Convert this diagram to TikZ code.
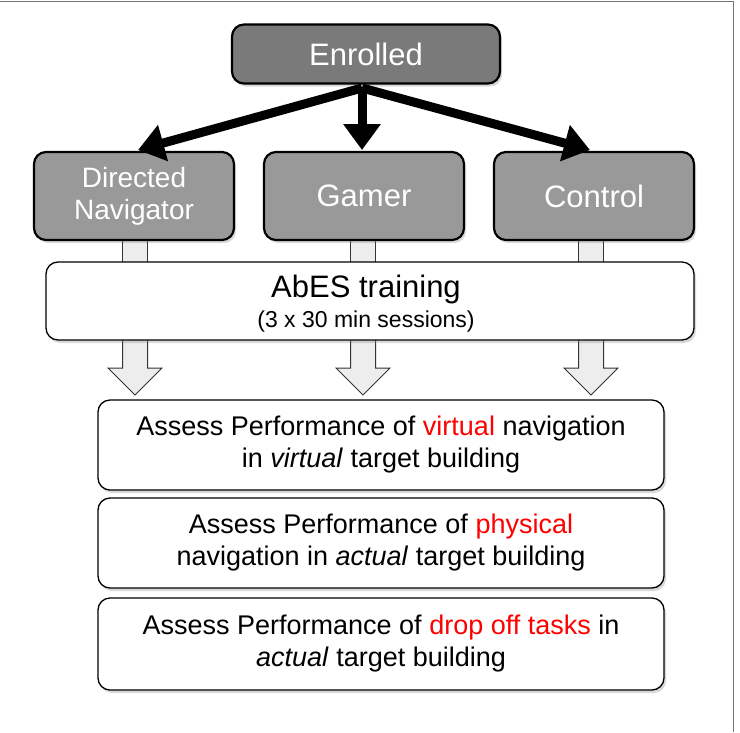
\documentclass[tikz,border=0pt]{standalone}
\usepackage{fontspec}
\setmainfont{Liberation Sans}
\usetikzlibrary{shadows,arrows.meta}
\begin{document}
\begin{tikzpicture}[x=1pt,y=-1pt,
  box/.style={draw=black,line width=2.2pt,rounded corners=12pt,drop shadow={shadow xshift=2pt,shadow yshift=-3pt,opacity=0.3}},
  dark/.style={box,fill=black!52},
  mid/.style={box,fill=black!40},
  wbox/.style={box,fill=white,line width=1.3pt},
  wt/.style={text=white,font=\fontsize{31}{34}\selectfont},
  asstxt/.style={font=\fontsize{27}{32}\selectfont,align=center},
  thick arr/.style={line width=9pt,-{Triangle[length=26pt,width=36pt]}},
  barf/.style={draw=black!80,fill=black!7,line width=1pt}]
\useasboundingbox (0,0) rectangle (740,732);
\draw[black!55,line width=1pt] (0,1) -- (733,1) -- (733,732);
% vertical shafts
\foreach \c/\n in {135/a,363/b,591/c}{
  \filldraw[barf] (\c-12.5,238) rectangle (\c+12.5,264);
  \filldraw[barf] (\c-12.5,338) -- (\c-12.5,368) -- (\c-27,368) -- (\c,395) -- (\c+27,368) -- (\c+12.5,368) -- (\c+12.5,338) -- cycle;
}
\node[dark,minimum width=268pt,minimum height=59pt] (en) at (366,54) {};
\node[wt] at (en) {Enrolled};
\node[mid,minimum width=200pt,minimum height=88pt] (dn) at (134,196) {};
\node[mid,minimum width=200pt,minimum height=88pt] (ga) at (364,196) {};
\node[mid,minimum width=200pt,minimum height=88pt] (co) at (594,196) {};
\node[wt,align=center,font=\fontsize{28}{32}\selectfont] at (dn) {Directed\\Navigator};
\node[wt] at (ga) {Gamer};
\node[wt] at (co) {Control};
\coordinate (src) at (362,88);
\draw[thick arr] (src) -- (138,150);
\draw[thick arr] (src) -- (362,150);
\draw[thick arr] (src) -- (590,150);
\node[wbox,minimum width=648pt,minimum height=78pt] (ab) at (370,301) {};
\node[font=\fontsize{31}{34}\selectfont] at (366,289) {AbES training};
\node[font=\fontsize{23}{26}\selectfont] at (366,322) {(3 x 30 min sessions)};
\node[wbox,minimum width=566pt,minimum height=90pt] (v1) at (381,445) {};
\node[wbox,minimum width=566pt,minimum height=90pt] (v2) at (381,543) {};
\node[wbox,minimum width=566pt,minimum height=92pt] (v3) at (381,644) {};
\node[asstxt] at (v1) {Assess Performance of \textcolor{red}{virtual} navigation\\in \textit{virtual} target building};
\node[asstxt] at (v2) {Assess Performance of \textcolor{red}{physical}\\navigation in \textit{actual} target building};
\node[asstxt] at (v3) {Assess Performance of \textcolor{red}{drop off tasks} in\\\textit{actual} target building};
\end{tikzpicture}
\end{document}
